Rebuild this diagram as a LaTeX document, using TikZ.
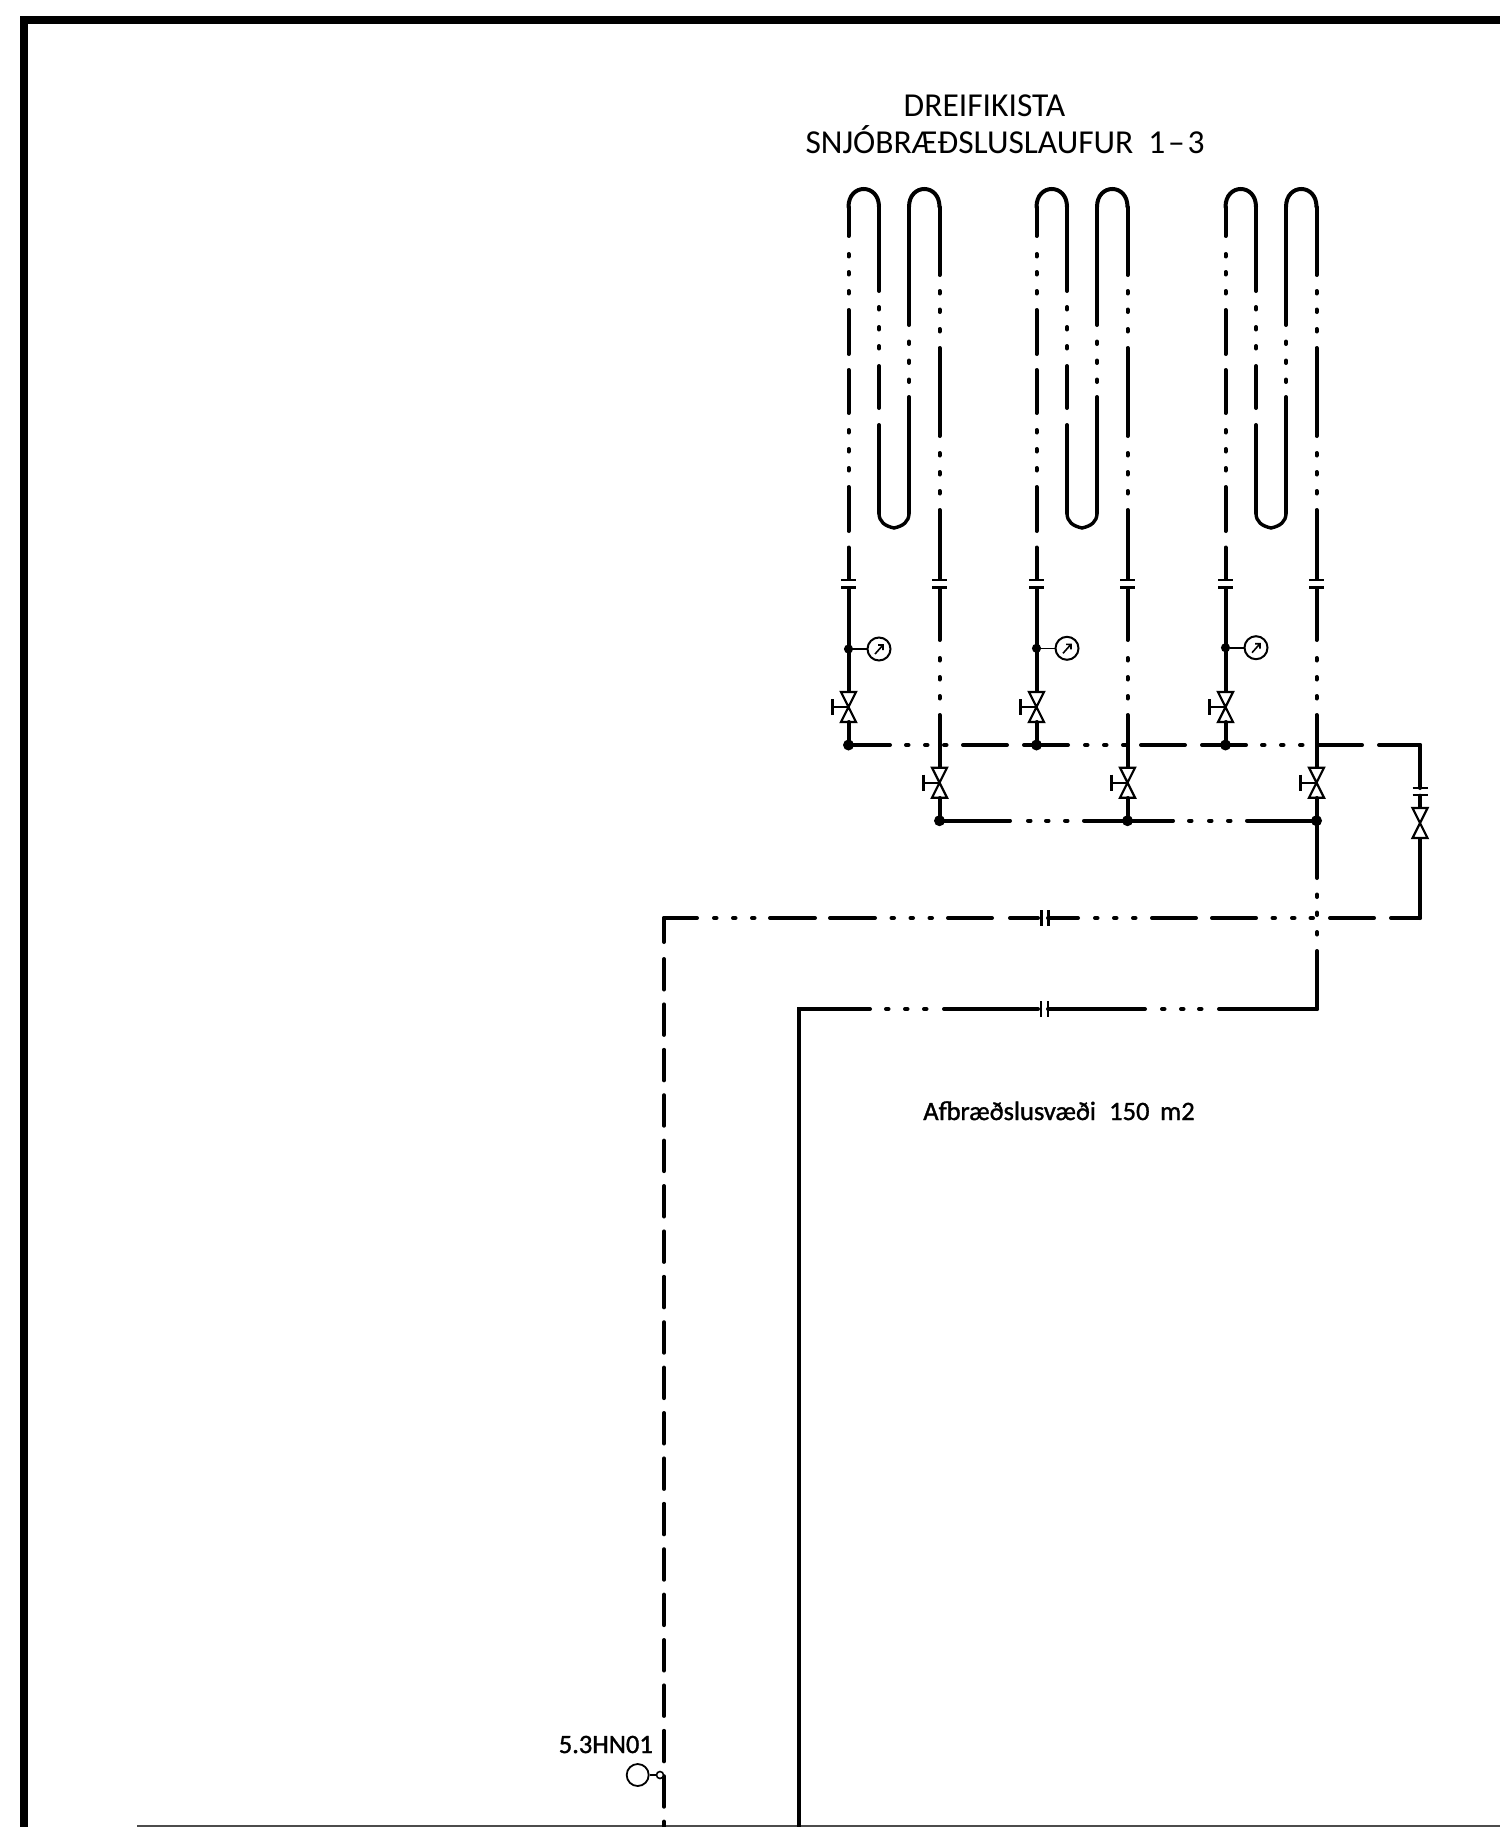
\documentclass[tikz,border=0pt]{standalone}
\usepackage{fontspec}
\setmainfont{Carlito}
\usetikzlibrary{calc}
\tikzset{
  x=1pt,y=-1pt,
  pipe/.style={line width=4pt,line cap=round,black},
  frame/.style={line width=8pt,black},
  valve/.style={line width=2.2pt,black,fill=white,line join=miter},
  flange/.style={line width=2.2pt,black},
  dotnode/.style={circle,fill=black,inner sep=0pt,minimum size=11pt},
  smallnode/.style={circle,draw=black,line width=2pt,fill=black,inner sep=0pt,minimum size=7pt},
  gaugenode/.style={circle,draw=black,line width=2pt,fill=white,inner sep=0pt,minimum size=23pt},
  title/.style={inner sep=0pt,anchor=base,font=\fontsize{33.5}{33.5}\selectfont},
  label/.style={inner sep=0pt,anchor=base,font=\fontsize{26.5}{26.5}\selectfont\addfontfeature{FakeBold=1.2}}
}
% vertical pipe pieces at x of named coordinate: list of from/to
\newcommand{\vrun}[2]{\foreach \a/\b in {#2}{\draw[pipe] (#1 |- 0,\a) -- (#1 |- 0,\b);}}
% horizontal pipe pieces at y of named coordinate
\newcommand{\hrun}[2]{\foreach \a/\b in {#2}{\draw[pipe] (\a,0 |- #1) -- (\b,0 |- #1);}}
% vertical valve: name, centre
\newcommand{\valvesym}[1]{%
  \draw[valve] ($(#1)+(-7.5,-15)$) -- ($(#1)+(7.5,-15)$) -- ($(#1)+(-7.5,15)$) -- ($(#1)+(7.5,15)$) -- cycle;}
\newcommand{\handle}[1]{%
  \draw[flange] (#1) -- ($(#1)+(-16,0)$) ($(#1)+(-16,-8)$) -- ($(#1)+(-16,8)$);}
\newcommand{\vflange}[1]{%
  \draw[flange] ($(#1)+(-7.5,0)$) -- ($(#1)+(7.5,0)$) ($(#1)+(-7.5,7.5)$) -- ($(#1)+(7.5,7.5)$);}
\newcommand{\hflange}[1]{%
  \draw[flange] ($(#1)+(-3.5,-8)$) -- ($(#1)+(-3.5,8)$) ($(#1)+(3.5,-8)$) -- ($(#1)+(3.5,8)$);}
\begin{document}
\begin{tikzpicture}
\useasboundingbox (0,0) rectangle (1500,1827);
\fill[white] (0,0) rectangle (1500,1827);
\clip (0,0) rectangle (1500,1827);
% frame
\coordinate (fTL) at (24,20); \coordinate (fTR) at (1500,20); \coordinate (fBL) at (24,1827);
\draw[frame,line join=miter] (fBL) -- (fTL) -- (fTR);
\coordinate (bA) at (137,1826); \coordinate (bB) at (1500,1826);
\draw[line width=1.6pt,black!70] (bA) -- (bB);
% titles
\node[title] (t1) at (984.5,117) {DREIFIKISTA};
\node[title] (t2) at (1005,154) {SNJÓBRÆÐSLUSLAUFUR\hspace{.45em}1\hspace{.08em}–\hspace{.08em}3};
\node[label] (t3) at (1059,1120) {Afbræðslusvæði\hspace{.5em}150\hspace{.4em}m2};
% the three loops
\foreach \dx/\i/\gy in {0/1/649,188/2/648.3,377/3/647.7}{
  \coordinate (a\i) at (848.5+\dx,0);
  \coordinate (b\i) at (879+\dx,0);
  \coordinate (c\i) at (909+\dx,0);
  \coordinate (d\i) at (939.5+\dx,0);
  \coordinate (m\i) at (894+\dx,0);
  % top bends
  \draw[pipe] (a\i |- 0,207) .. controls (a\i |- 0,183) and (b\i |- 0,183) .. (b\i |- 0,207);
  \draw[pipe] (c\i |- 0,207) .. controls (c\i |- 0,183) and (d\i |- 0,183) .. (d\i |- 0,207);
  % bottom bend
  \draw[pipe,line width=3.4pt] (b\i |- 0,513) .. controls (b\i |- 0,522) and ($(b\i |- 0,522)+(6,4)$) .. (m\i |- 0,528)
     .. controls ($(c\i |- 0,522)+(-6,4)$) and (c\i |- 0,522) .. (c\i |- 0,513);
  \vrun{a\i}{207/236,254/256.5,272/274.5,291/293.5,310/354,370/413,430/432.5,449/451.5,468/470.5,487/531,547.5/692}
  \vrun{b\i}{207/291,307/309.5,327/329.5,346/348.5,366/408,425/513}
  \vrun{c\i}{207/325,341.5/344,360.5/363,379.5/382,397/513}
  \vrun{d\i}{207/275,291/293.5,309.5/312,329/331.5,348/436,453/455.5,472/474.5,491/493.5,510/640,658/660.5,677/679.5,696/698.5,715/767}
  % flanges
  \coordinate (fa\i) at (a\i |- 0,580);
  \coordinate (fd\i) at (d\i |- 0,580);
  \fill[white] ($(fa\i)+(-3,1)$) rectangle ($(fa\i)+(3,6.5)$);
  \fill[white] ($(fd\i)+(-3,1)$) rectangle ($(fd\i)+(3,6.5)$);
  \vflange{fa\i}
  \vflange{fd\i}
  % gauge
  \node[gaugenode] (g\i) at ($(a\i |- 0,\gy)+(30.5,0)$) {};
  \node[smallnode] (n\i) at (a\i |- 0,\gy) {};
  \draw[line width=1.6pt] (n\i) -- (g\i.west);
  \draw[line width=1.6pt,line cap=butt] ($(g\i)+(-4,5)$) -- ($(g\i)+(4,-4)$) ($(g\i)+(-1,-4)$) -- ($(g\i)+(4,-4)$) -- ($(g\i)+(4,1)$);
  % valve on a
  \coordinate (va\i) at (a\i |- 0,707);
  \handle{va\i}
  \valvesym{va\i}
  \coordinate (vd\i) at (d\i |- 0,782.7);
  \handle{vd\i}
  \valvesym{vd\i}
  \vrun{a\i}{722/745}
  \vrun{d\i}{798/820.7}
  \node[dotnode] (ja\i) at (a\i |- 0,745) {};
  \node[dotnode] (jd\i) at (d\i |- 0,820.7) {};
}
% header supply
\coordinate (yA) at (0,745);
\hrun{yA}{850/890,906/908.5,925/927.5,944/946.5,963/1007,1024/1068,1085/1087.5,1104/1106.5,1123/1125.5,1141/1185,1202/1246,1262/1264.5,1281/1283.5,1300/1302.5,1317/1362,1379/1420}
% header return
\coordinate (yB) at (0,820.7);
\hrun{yB}{940/1010,1028/1030.5,1046/1048.5,1065/1067.5,1084/1173,1189/1191.5,1209/1211.5,1228/1230.5,1247/1317}
% riser
\coordinate (xR) at (1317,0);
\vrun{xR}{820.7/878,894.5/897,912.5/915,932/934.5,951/1009}
% right branch
\coordinate (xV) at (1420,0);
\vrun{xV}{745/788,795.7/808,838/918}
\coordinate (fr) at (1420,787.7);
\vflange{fr}
\coordinate (vr) at (1420,823);
\valvesym{vr}
% y=918 line
\coordinate (yC) at (0,918);
\hrun{yC}{1420/1391,1374/1330,1310.5/1313,1292/1294.5,1272.5/1275,1256/1212,1196/1152,1133/1135.5,1114/1116.5,1095/1097.5,1078/1048,1038/1010,992/948,929.5/932,910.5/913,891.5/894,875/830,815/770,752/754.5,733/735.5,714/716.5,697/664}
\coordinate (fC) at (1045,918);
\hflange{fC}
% y=1009 line
\coordinate (yD) at (0,1009);
\hrun{yD}{1317/1219,1199/1201.5,1181/1183.5,1162/1164.5,1145/1048,1038/944,924/926.5,905/907.5,886/888.5,870/799}
\coordinate (fD) at (1044.5,1009);
\hflange{fD}
% long verticals
\coordinate (xL) at (664,0);
\coordinate (xM) at (799,0);
\draw[pipe,line width=4.6pt,line cap=butt] (xM |- 0,1007) -- (xM |- 0,1827);
\vrun{xL}{918/942}
\foreach \n in {0,...,19}{
  \pgfmathsetmacro{\ya}{959+\n*45.4}
  \pgfmathsetmacro{\yb}{\ya+30.5}
  \draw[pipe] (xL |- 0,\ya) -- (xL |- 0,\yb);
}
% instrument
\node[gaugenode,minimum size=22pt,line width=1.8pt] (hn) at (637.7,1775) {};
\node[circle,draw=black,line width=1.6pt,fill=white,inner sep=0pt,minimum size=7pt] (hs) at (660,1775) {};
\draw[line width=1.8pt] (hn) -- (hs);
\node[label,anchor=base east] (hl) at (653,1753) {5.3HN01};
\end{tikzpicture}
\end{document}
